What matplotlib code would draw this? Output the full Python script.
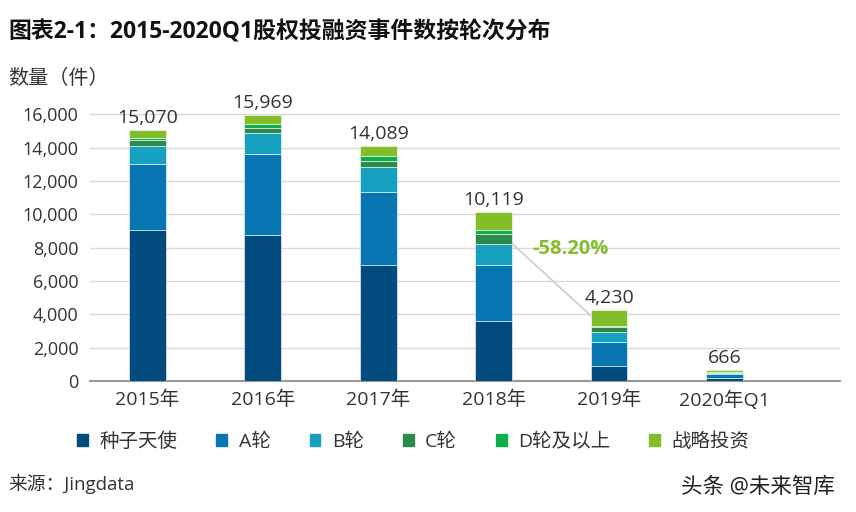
import matplotlib.pyplot as plt
from matplotlib.patches import Rectangle
import numpy as np

plt.rcParams['font.family'] = ['Open Sans', 'Noto Sans CJK SC', 'DejaVu Sans']

years = ['2015年', '2016年', '2017年', '2018年', '2019年', '2020年Q1']
totals = [15070, 15969, 14089, 10119, 4230, 666]
series_names = ['种子天使', 'A轮', 'B轮', 'C轮', 'D轮及以上', '战略投资']
seed = [9050, 8780, 6960, 3600, 880, 150]
round_a = [4000, 4870, 4370, 3350, 1470, 250]
round_b = [1050, 1210, 1500, 1300, 590, 80]
round_c = [350, 330, 400, 560, 270, 20]
round_d = [120, 210, 300, 250, 80, 10]
strategic = [500, 569, 559, 1059, 940, 156]
change_label = '-58.20%'

colors = ['#024B7E', '#0976B4', '#17A1C1', '#2C8A4A', '#0AAE4B', '#84BD2B']
txt = '#333333'

fig = plt.figure(figsize=(8.56, 5.12), dpi=100)
ax = fig.add_axes([0.105, 0.256, 0.876, 0.553])

x = np.arange(len(years))
w = 0.32
bottom = np.zeros(len(years))
for vals, c in zip([seed, round_a, round_b, round_c, round_d, strategic], colors):
    ax.bar(x, vals, w, bottom=bottom, color=c, edgecolor='white', linewidth=0.4, zorder=3)
    bottom += np.array(vals)

for xi, t, top in zip(x, totals, bottom):
    ax.text(xi, top + 200, f'{t:,}', ha='center', va='bottom', fontsize=14, color=txt)

# connector from 2018 to 2019
y18 = seed[3] + round_a[3] + round_b[3]
ax.plot([3 + w / 2, 4 - w / 2], [y18, bottom[4] - 300], color='#cccccc', lw=1.2, zorder=2)
ax.text(3.34, 7950, change_label, color='#84BD2B', fontsize=14.5, fontweight='bold',
        ha='left', va='center')

ax.set_xlim(-0.5, 6.0)
ax.set_ylim(0, 17000)
ax.set_yticks(np.arange(0, 16001, 2000))
ax.set_yticklabels([f'{v:,}' for v in range(0, 16001, 2000)], fontsize=13, color=txt)
ax.set_xticks(x)
ax.set_xticklabels(years, fontsize=14, color=txt)
ax.tick_params(axis='y', length=0, pad=8)
ax.tick_params(axis='x', length=0, pad=7)
ax.grid(axis='y', color='#d9d9d9', lw=1, zorder=0)
for s in ['top', 'right', 'left']:
    ax.spines[s].set_visible(False)
ax.spines['bottom'].set_color('#999999')
ax.spines['bottom'].set_linewidth(1.5)

fig.text(0.01, 0.937, '图表2-1：2015-2020Q1股权投融资事件数按轮次分布', fontsize=16.5,
         fontweight='bold', color='#111111', va='center')
fig.text(0.01, 0.845, '数量（件）', fontsize=14.5, color=txt, va='center')
fig.text(0.01, 0.055, '来源：Jingdata', fontsize=13.5, color=txt, va='center')
fig.text(0.796, 0.049, '头条 @未来智库', fontsize=15.5, color='#222222', va='center')

handles = [Rectangle((0, 0), 1, 1, color=c) for c in colors]
fig.legend(handles, series_names, loc='center', bbox_to_anchor=(0.483, 0.137), ncol=6,
           frameon=False, fontsize=14, handlelength=0.55, handleheight=0.55,
           handletextpad=0.6, columnspacing=2.0, labelcolor=txt)

fig.savefig('out.png', dpi=100)
